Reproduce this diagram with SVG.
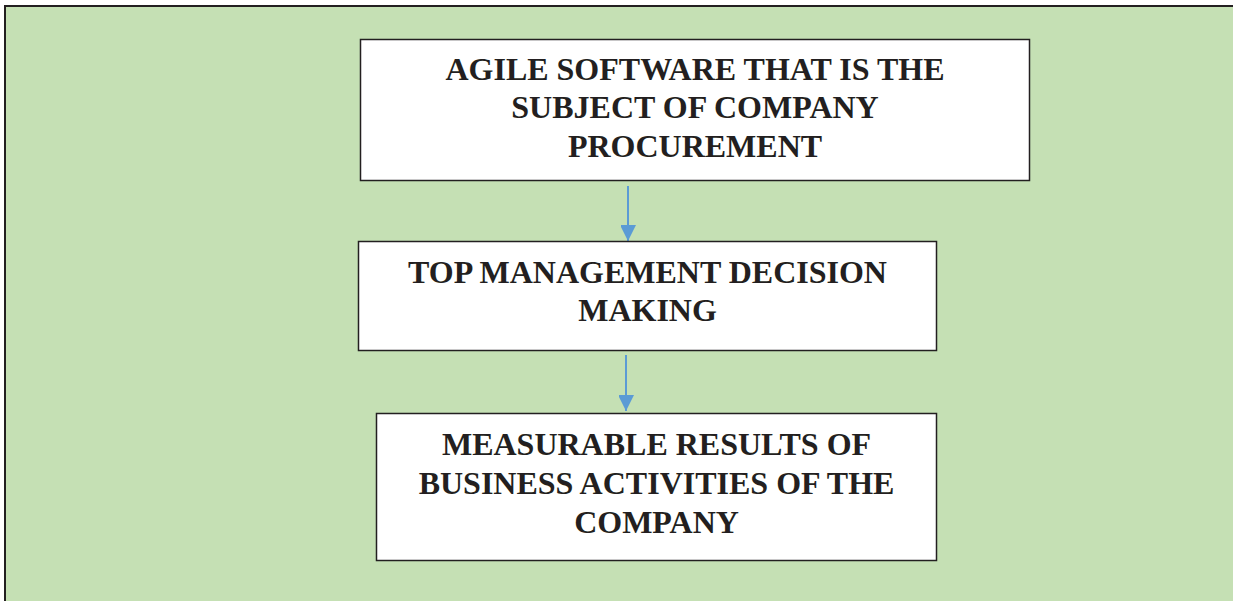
<svg xmlns="http://www.w3.org/2000/svg" width="1233" height="601" viewBox="0 0 1233 601">
<style>
.box{fill:#ffffff;stroke:#231f20;stroke-width:1.5}
.t{font-family:"Liberation Serif","Times New Roman",serif;font-weight:bold;font-size:32px;fill:#231f20;text-anchor:middle}
.conn{stroke:#5b9bd5;stroke-width:2;fill:none}
</style>
<defs>
<marker id="ah" markerUnits="userSpaceOnUse" markerWidth="16" markerHeight="15" refX="16" refY="8" orient="auto">
<path d="M0,0 L16,8 L0,16 Z" fill="#5b9bd5"/>
</marker>
</defs>
<rect x="0" y="0" width="1233" height="601" fill="#ffffff"/>
<rect x="5" y="6" width="1240" height="610" fill="#c5e0b4" stroke="#231f20" stroke-width="2"/>
<g id="connectors">
<line class="conn" x1="628" y1="186" x2="628" y2="241" marker-end="url(#ah)"/>
<line class="conn" x1="626" y1="355" x2="626" y2="411" marker-end="url(#ah)"/>
</g>
<g id="node1">
<rect class="box" x="360.5" y="39.5" width="669" height="141"/>
<text class="t" x="695" y="80">AGILE SOFTWARE THAT IS THE</text>
<text class="t" x="695" y="118">SUBJECT OF COMPANY</text>
<text class="t" x="695" y="157">PROCUREMENT</text>
</g>
<g id="node2">
<rect class="box" x="358.5" y="241.5" width="578" height="109"/>
<text class="t" x="647.5" y="283">TOP MANAGEMENT DECISION</text>
<text class="t" x="647.5" y="321">MAKING</text>
</g>
<g id="node3">
<rect class="box" x="376.5" y="413.5" width="560" height="147"/>
<text class="t" x="656.5" y="455">MEASURABLE RESULTS OF</text>
<text class="t" x="656.5" y="494">BUSINESS ACTIVITIES OF THE</text>
<text class="t" x="656.5" y="533">COMPANY</text>
</g>
</svg>
